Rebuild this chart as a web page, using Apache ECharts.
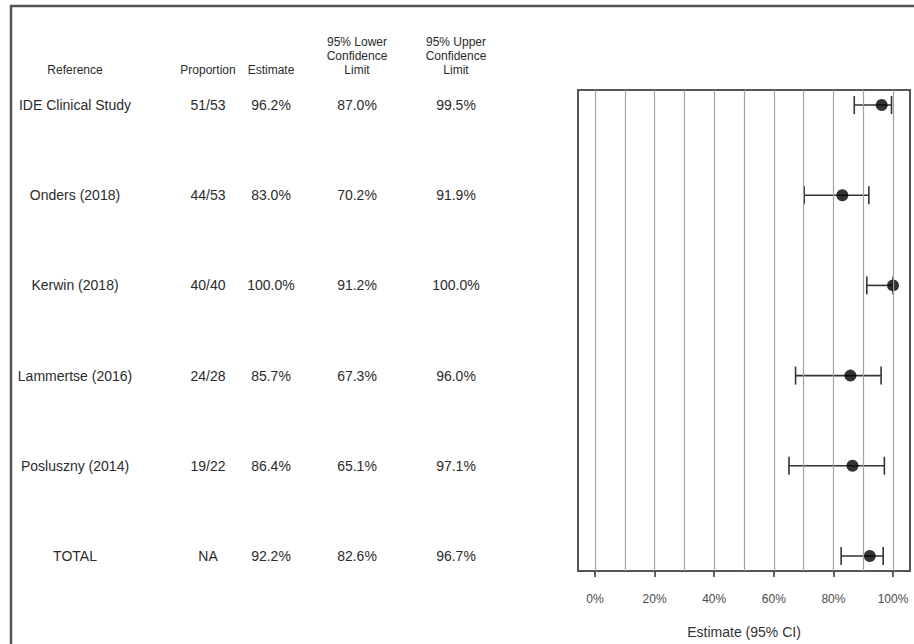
<!DOCTYPE html>
<html>
<head>
<meta charset="utf-8">
<script src="https://cdn.jsdelivr.net/npm/echarts@6/dist/echarts.min.js"></script>
<style>
  html, body { margin: 0; padding: 0; background: #fff; }
  #chart { width: 914px; height: 644px; }
</style>
</head>
<body>
<div id="chart"></div>
<script>
// Study-level proportions with 95% confidence limits (percent)
const studies    = ['IDE Clinical Study', 'Onders (2018)', 'Kerwin (2018)', 'Lammertse (2016)', 'Posluszny (2014)', 'TOTAL'];
const proportion = ['51/53', '44/53', '40/40', '24/28', '19/22', 'NA'];
const estimate   = [96.2, 83.0, 100.0, 85.7, 86.4, 92.2];
const lowerCL    = [87.0, 70.2, 91.2, 67.3, 65.1, 82.6];
const upperCL    = [99.5, 91.9, 100.0, 96.0, 97.1, 96.7];
const xTicks     = [0, 20, 40, 60, 80, 100];
const gridValues = [0, 10, 20, 30, 40, 50, 60, 70, 80, 90, 100];
const headers    = ['Reference', 'Proportion', 'Estimate', '95% Lower\nConfidence\nLimit', '95% Upper\nConfidence\nLimit'];

// table column centres (px)
const colX = [75, 208, 271, 357, 456];
const FONT = '"Liberation Sans", Arial, sans-serif';
const TEXT = '#2b2b2b';

const chart = echarts.init(document.getElementById('chart'), null, { renderer: 'svg' });

const rows = studies.map((s, i) => i);

const option = {
  animation: false,
  backgroundColor: '#fff',
  grid: {
    left: 578, right: 4, top: 90, bottom: 73,
    show: true, borderColor: '#555', borderWidth: 2, backgroundColor: '#fff'
  },
  xAxis: {
    type: 'value',
    position: 'bottom',
    min: -5.7, max: 105.7,
    splitLine: { show: false },
    axisLine: { show: false, onZero: false },
    axisTick: { show: true, customValues: xTicks, length: 6, lineStyle: { color: '#333', width: 1.5 } },
    axisLabel: {
      customValues: xTicks, formatter: '{value}%', margin: 22,
      color: '#4a4a4a', fontSize: 12, fontFamily: FONT
    },
    name: 'Estimate (95% CI)', nameLocation: 'middle', nameGap: 54,
    nameTextStyle: { color: '#333', fontSize: 14, fontFamily: FONT }
  },
  yAxis: {
    type: 'value', inverse: true,
    min: -0.167, max: 5.167,
    show: false
  },
  series: [
    {
      // vertical reference lines every 10%
      type: 'line', data: [], silent: true,
      markLine: {
        symbol: 'none', silent: true, animation: false,
        label: { show: false },
        lineStyle: { color: '#a3a3a3', width: 1.2, type: 'solid' },
        data: gridValues.map(v => ({ xAxis: v }))
      }
    },
    {
      // confidence interval whiskers with end caps
      type: 'custom',
      data: rows.map(i => [lowerCL[i], upperCL[i], i]),
      renderItem: function (params, api) {
        const lo = api.coord([api.value(0), api.value(2)]);
        const hi = api.coord([api.value(1), api.value(2)]);
        const h = 9;
        const style = { stroke: '#333', lineWidth: 1.6 };
        return {
          type: 'group',
          children: [
            { type: 'line', shape: { x1: lo[0], y1: lo[1], x2: hi[0], y2: hi[1] }, style },
            { type: 'line', shape: { x1: lo[0], y1: lo[1] - h, x2: lo[0], y2: lo[1] + h }, style },
            { type: 'line', shape: { x1: hi[0], y1: hi[1] - h, x2: hi[0], y2: hi[1] + h }, style }
          ]
        };
      },
      z: 3
    },
    {
      type: 'scatter',
      data: rows.map(i => [estimate[i], i]),
      symbol: 'circle', symbolSize: 12,
      itemStyle: { color: '#000' },
      z: 4
    }
  ]
};
chart.setOption(option);

// table text beside the plot, rows positioned through the shared y scale
const fmt = v => v.toFixed(1) + '%';
const columns = [
  studies, proportion,
  estimate.map(fmt), lowerCL.map(fmt), upperCL.map(fmt)
];
const graphics = [];
graphics.push({
  type: 'rect', z: 0, silent: true,
  shape: { x: 11, y: 6, width: 1000, height: 1000 },
  style: { fill: 'none', stroke: '#555', lineWidth: 2.5 }
});
headers.forEach((h, c) => {
  graphics.push({
    type: 'text', silent: true,
    x: colX[c], y: 77,
    style: {
      text: h, align: 'center', verticalAlign: 'bottom',
      font: '12px ' + FONT, fill: TEXT, lineHeight: 14
    }
  });
});
columns.forEach((col, c) => {
  col.forEach((txt, i) => {
    const y = chart.convertToPixel({ yAxisIndex: 0 }, i);
    graphics.push({
      type: 'text', silent: true,
      x: colX[c], y: y,
      style: {
        text: txt, align: 'center', verticalAlign: 'middle',
        font: '14px ' + FONT, fill: TEXT
      }
    });
  });
});
chart.setOption({ graphic: graphics });
</script>
</body>
</html>
